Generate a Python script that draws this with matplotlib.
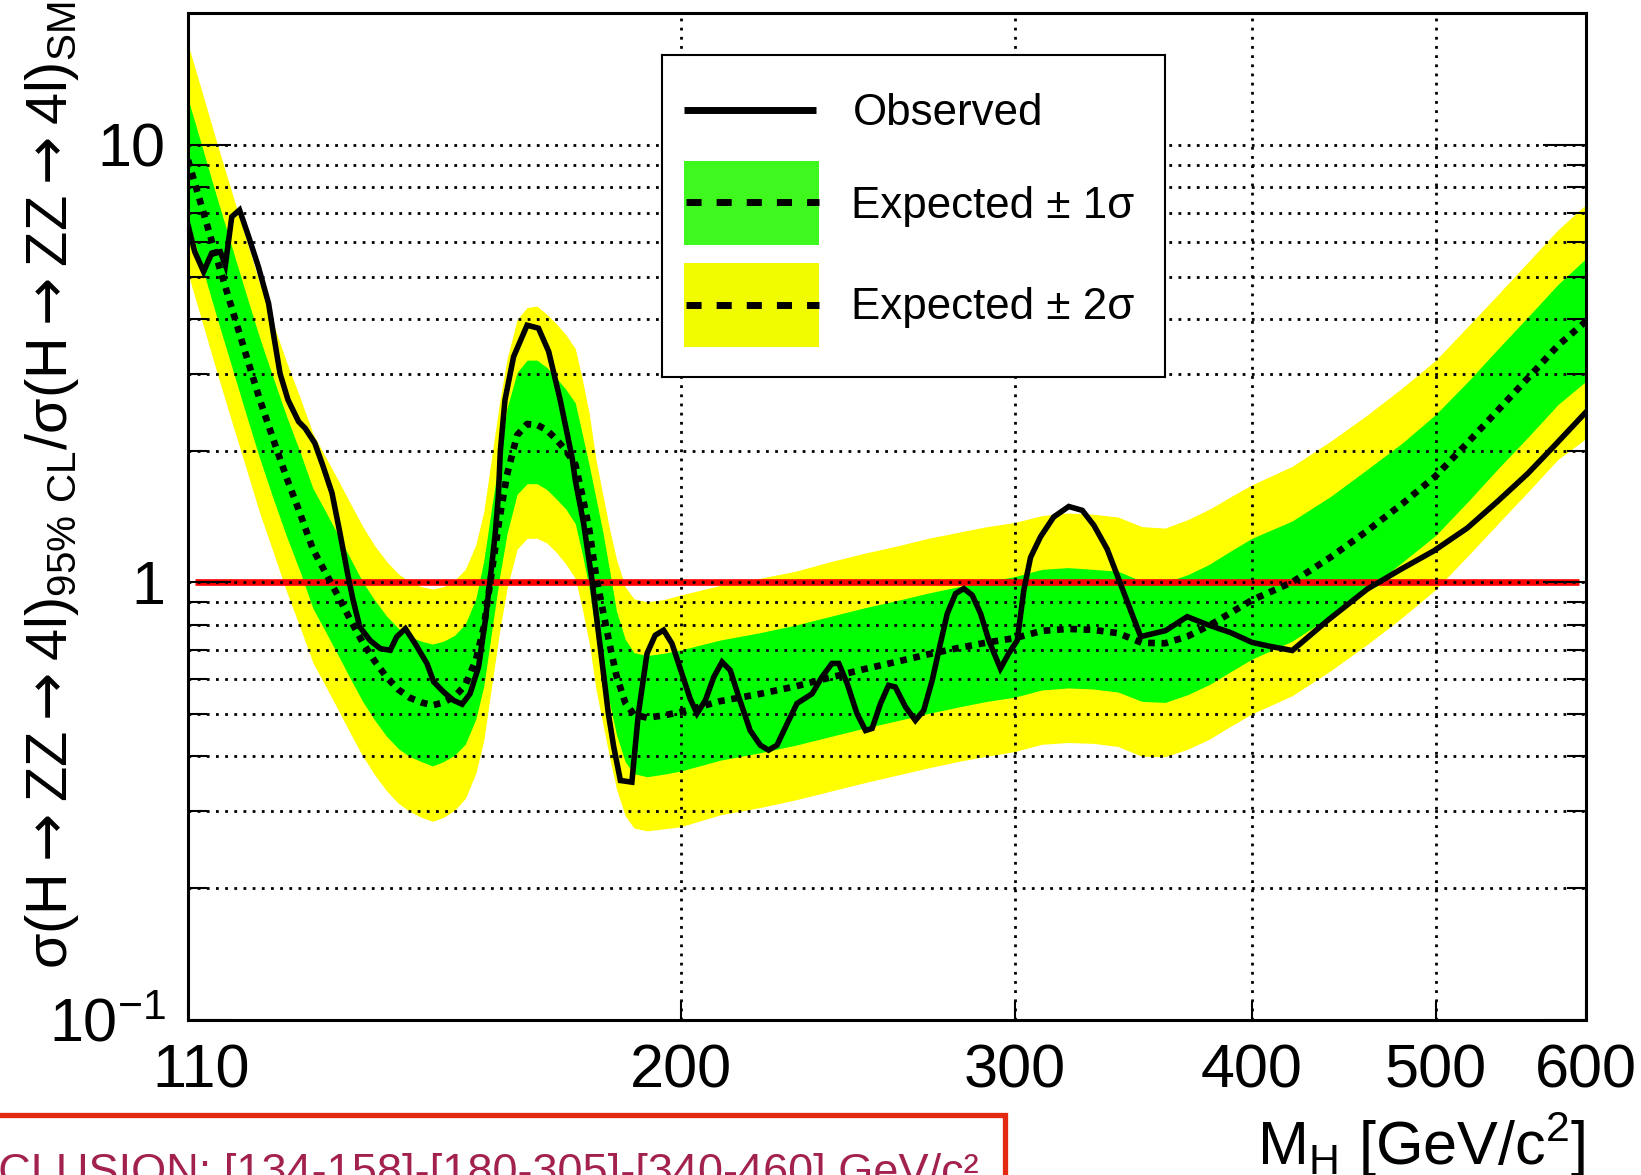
import matplotlib
matplotlib.use('Agg')
import matplotlib.pyplot as plt
from matplotlib.ticker import FixedLocator, NullLocator
from matplotlib.patches import Rectangle
from matplotlib.transforms import ScaledTranslation

# fonts: Helvetica-like, ROOT style
plt.rcParams['font.family'] = ['Liberation Sans', 'DejaVu Sans']
plt.rcParams['mathtext.fontset'] = 'dejavusans'
SANS = ['Liberation Sans', 'DejaVu Sans']

# ---- data (Higgs mass in GeV/c^2, limit / SM) ----
m_obs = [110.0, 110.9, 112.1, 113.2, 114.4, 115.1, 116.0, 117.1, 118.4, 119.8,
         121.3, 122.0, 123.0, 124.2, 125.8, 126.8, 128.3, 129.6, 131.0, 132.3,
         133.6, 134.4, 135.5, 137.2, 138.9, 140.6, 141.7, 143.2, 144.9, 147.0,
         148.2, 150.0, 151.8, 153.4, 154.9, 156.5, 157.8, 158.7, 159.7, 160.3,
         160.7, 161.6, 163.3, 166.0, 168.3, 170.4, 172.8, 175.3, 176.0, 177.8,
         179.6, 181.4, 183.2, 184.4, 185.9, 188.5, 190.0, 192.0, 193.9, 195.9,
         197.9, 200.3, 202.3, 204.0, 206.1, 208.2, 210.3, 212.4, 214.6, 217.6,
         220.3, 222.5, 224.8, 227.6, 230.3, 234.6, 237.4, 240.3, 242.3, 244.8,
         247.7, 250.3, 252.3, 254.9, 257.4, 259.5, 262.7, 265.9, 268.6, 271.4,
         274.1, 276.4, 279.2, 282.0, 284.9, 287.8, 290.7, 294.8, 297.8, 300.9,
         303.3, 305.8, 309.5, 314.5, 320.3, 325.6, 330.2, 335.6, 341.1, 349.5,
         360.2, 369.8, 378.9, 389.8, 400.2, 409.2, 420.1, 438.4, 460.2, 479.2,
         498.9, 519.5, 538.9, 558.9, 577.3, 600.0]
observed = [6.56, 5.70, 5.13, 5.65, 5.70, 5.31, 6.85, 7.10, 6.17, 5.27,
            4.34, 3.71, 3.00, 2.61, 2.33, 2.25, 2.08, 1.84, 1.60, 1.29,
            1.03, 0.91, 0.79, 0.736, 0.705, 0.699, 0.750, 0.783, 0.724, 0.652,
            0.592, 0.561, 0.537, 0.526, 0.556, 0.640, 0.819, 1.01, 1.29, 1.57,
            2.00, 2.61, 3.28, 3.87, 3.81, 3.37, 2.61, 1.93, 1.71, 1.36,
            1.01, 0.711, 0.501, 0.420, 0.352, 0.349, 0.501, 0.687, 0.756, 0.777,
            0.724, 0.618, 0.542, 0.501, 0.537, 0.607, 0.657, 0.629, 0.547, 0.458,
            0.424, 0.413, 0.424, 0.475, 0.528, 0.556, 0.607, 0.652, 0.652, 0.586,
            0.501, 0.458, 0.463, 0.528, 0.581, 0.576, 0.519, 0.483, 0.509, 0.597,
            0.724, 0.848, 0.942, 0.967, 0.934, 0.848, 0.736, 0.635, 0.687, 0.736,
            0.959, 1.14, 1.27, 1.41, 1.49, 1.46, 1.35, 1.19, 0.99, 0.751,
            0.775, 0.834, 0.800, 0.767, 0.728, 0.713, 0.698, 0.817, 0.965, 1.07,
            1.18, 1.33, 1.53, 1.77, 2.05, 2.45]

m_exp = [110, 112, 114, 116, 118, 120, 122, 124, 126, 128,
         130, 132, 134, 136, 138, 140, 142, 144, 146, 148,
         150, 152, 154, 156, 157.5, 159, 160.5, 162, 164, 166,
         168, 170, 172, 174, 176, 177.5, 179, 180.5, 182, 183.5,
         185, 187, 189, 192, 196, 200, 210, 220, 230, 240,
         250, 260, 270, 280, 290, 300, 310, 320, 330, 340,
         350, 360, 370, 380, 390, 400, 420, 440, 460, 480,
         500, 520, 540, 560, 580, 600]
expected = [9.24, 7.08, 5.44, 4.24, 3.32, 2.62, 2.12, 1.73, 1.44, 1.19,
            1.05, 0.928, 0.818, 0.727, 0.659, 0.606, 0.568, 0.544, 0.531, 0.523,
            0.531, 0.548, 0.581, 0.665, 0.79, 1.05, 1.39, 1.76, 2.17, 2.30,
            2.29, 2.23, 2.12, 2.0, 1.86, 1.58, 1.32, 1.03, 0.86, 0.72,
            0.612, 0.53, 0.498, 0.490, 0.496, 0.505, 0.535, 0.555, 0.578, 0.606,
            0.633, 0.658, 0.684, 0.707, 0.728, 0.745, 0.774, 0.782, 0.778, 0.765,
            0.727, 0.725, 0.752, 0.797, 0.852, 0.91, 1.00, 1.14, 1.31, 1.51,
            1.75, 2.09, 2.49, 2.95, 3.48, 3.95]
one_sig_hi = [12.75, 9.77, 7.51, 5.85, 4.58, 3.62, 2.93, 2.39, 1.99, 1.64,
              1.45, 1.28, 1.13, 1.00, 0.909, 0.836, 0.784, 0.751, 0.733, 0.722,
              0.733, 0.756, 0.802, 0.918, 1.12, 1.48, 1.92, 2.50, 3.02, 3.22,
              3.22, 3.10, 2.93, 2.76, 2.57, 2.18, 1.85, 1.55, 1.30, 1.06,
              0.860, 0.740, 0.690, 0.680, 0.688, 0.700, 0.738, 0.766, 0.798, 0.836,
              0.874, 0.908, 0.944, 0.976, 1.005, 1.03, 1.07, 1.08, 1.07, 1.06,
              1.005, 1.00, 1.04, 1.10, 1.18, 1.26, 1.38, 1.57, 1.81, 2.08,
              2.42, 2.88, 3.44, 4.07, 4.80, 5.50]
one_sig_lo = [6.77, 5.19, 3.99, 3.11, 2.43, 1.92, 1.55, 1.27, 1.06, 0.872,
              0.770, 0.680, 0.600, 0.533, 0.483, 0.444, 0.416, 0.399, 0.389, 0.380,
              0.389, 0.402, 0.426, 0.487, 0.579, 0.770, 1.02, 1.29, 1.59, 1.68,
              1.68, 1.63, 1.55, 1.47, 1.36, 1.16, 0.968, 0.755, 0.630, 0.528,
              0.449, 0.388, 0.365, 0.359, 0.364, 0.370, 0.392, 0.407, 0.424, 0.444,
              0.464, 0.482, 0.501, 0.518, 0.534, 0.546, 0.567, 0.573, 0.570, 0.561,
              0.534, 0.531, 0.553, 0.584, 0.625, 0.667, 0.733, 0.836, 0.960, 1.11,
              1.28, 1.53, 1.83, 2.16, 2.55, 2.88]
two_sig_hi = [17.0, 13.03, 10.01, 7.80, 6.11, 4.82, 3.90, 3.18, 2.65, 2.19,
              1.93, 1.71, 1.51, 1.34, 1.21, 1.115, 1.045, 1.00, 0.977, 0.965,
              0.977, 1.01, 1.07, 1.22, 1.45, 1.93, 2.56, 3.24, 3.99, 4.25,
              4.28, 4.10, 3.90, 3.68, 3.42, 2.91, 2.43, 1.90, 1.58, 1.32,
              1.13, 0.975, 0.916, 0.902, 0.913, 0.935, 0.984, 1.02, 1.06, 1.115,
              1.165, 1.21, 1.26, 1.30, 1.34, 1.37, 1.42, 1.44, 1.43, 1.41,
              1.34, 1.33, 1.39, 1.47, 1.57, 1.67, 1.84, 2.10, 2.41, 2.78,
              3.22, 3.85, 4.58, 5.43, 6.40, 7.31]
two_sig_lo = [5.08, 3.89, 2.99, 2.33, 1.83, 1.44, 1.17, 0.95, 0.79, 0.655,
              0.578, 0.510, 0.450, 0.400, 0.362, 0.333, 0.312, 0.299, 0.290, 0.284,
              0.290, 0.301, 0.320, 0.366, 0.435, 0.578, 0.765, 0.968, 1.19, 1.26,
              1.26, 1.23, 1.17, 1.10, 1.02, 0.869, 0.726, 0.567, 0.473, 0.396,
              0.337, 0.292, 0.274, 0.270, 0.273, 0.276, 0.294, 0.305, 0.318, 0.333,
              0.348, 0.362, 0.376, 0.389, 0.400, 0.410, 0.426, 0.430, 0.428, 0.421,
              0.400, 0.399, 0.415, 0.438, 0.469, 0.50, 0.55, 0.627, 0.72, 0.83,
              0.963, 1.15, 1.37, 1.62, 1.91, 2.13]

# SM reference line (limit / SM = 1)
ref_mass = [111, 595]
ref_ratio = [1, 1]

x_ticks = [110, 200, 300, 400, 500, 600]
x_tick_labels = ['110', '200', '300', '400', '500', '600']
y_major = [0.1, 1, 10]
y_major_labels = [r'$\mathregular{10^{-1}}$', '1', '10']
y_minor = [0.2, 0.3, 0.4, 0.5, 0.6, 0.7, 0.8, 0.9, 2, 3, 4, 5, 6, 7, 8, 9]

W, H = 1641, 1175
fig = plt.figure(figsize=(W / 100, H / 100), dpi=100)
ax = fig.add_axes([188 / W, 1 - 1019.5 / H, 1398 / W, 1006.2 / H])
ax.set_xscale('log')
ax.set_yscale('log')

ax.fill_between(m_exp, two_sig_lo, two_sig_hi, color='#ffff00', lw=0, zorder=1)
ax.fill_between(m_exp, one_sig_lo, one_sig_hi, color='#00ff00', lw=0, zorder=1.1)
ax.plot(ref_mass, ref_ratio, color='#ff0000', lw=4.8, zorder=2, solid_capstyle='butt')
ax.plot(m_exp, expected, color='black', lw=4.8, linestyle=(0, (1.0, 1.0)),
        dash_capstyle='butt', zorder=3)
ax.plot(m_obs, observed, color='black', lw=4.0, zorder=4, solid_joinstyle='miter')

ax.set_xlim(110, 600)
ax.set_ylim(0.1, 20)

ax.xaxis.set_major_locator(FixedLocator(x_ticks))
ax.xaxis.set_minor_locator(NullLocator())
ax.set_xticks(x_ticks, x_tick_labels, fontsize=44)
ax.yaxis.set_major_locator(FixedLocator(y_major))
ax.yaxis.set_minor_locator(FixedLocator(y_minor))
ax.set_yticks(y_major, y_major_labels, fontsize=44)
ax.yaxis.set_minor_formatter(plt.NullFormatter())

ax.tick_params(axis='x', which='major', direction='in', length=14, width=1.5,
               bottom=True, top=False, pad=17)
ax.tick_params(axis='y', which='major', direction='in', length=31, width=1.5,
               left=True, right=True, pad=16)
ax.tick_params(axis='y', which='minor', direction='in', length=14, width=1.5,
               left=True, right=True)

# the first x label sits a bit right of its tick, as in ROOT
first = ax.xaxis.get_major_ticks()[0].label1
first.set_transform(first.get_transform() + ScaledTranslation(0.13, 0, fig.dpi_scale_trans))

ax.set_axisbelow(False)
dots = (0, (1, 2.3))
ax.grid(True, which='major', axis='x', color='black', linestyle=dots, lw=2.0)
ax.grid(True, which='both', axis='y', color='black', linestyle=dots, lw=2.0)
for s in ax.spines.values():
    s.set_linewidth(2.2)

# axis titles
fig.text(1586 / W, -5 / H, r'M$_{\mathregular{H}}$ [GeV/c$^{\mathregular{2}}$]',
         ha='right', va='bottom', fontsize=44, family=SANS)
fig.text(52 / W, 0.999,
         r'σ(H$\rightarrow$ZZ$\rightarrow$4l)$_{\mathregular{95\%\ CL}}$'
         r'/σ(H$\rightarrow$ZZ$\rightarrow$4l)$_{\mathregular{SM}}$',
         rotation=90, ha='center', va='top', fontsize=41.5, family=SANS)

# legend box, drawn in its own small axes (pixel units inside the box)
lax = fig.add_axes([662 / W, 1 - 376.7 / H, 503 / W, 321.7 / H], zorder=5)
lax.set_xlim(0, 503)
lax.set_ylim(321.7, 0)
lax.set_xticks([])
lax.set_yticks([])
for s in lax.spines.values():
    s.set_linewidth(1.5)
lax.plot([22, 154], [55, 55], color='black', lw=5, solid_capstyle='butt')
lax.add_patch(Rectangle((22, 106), 135, 84, facecolor='#3ef81e', lw=0))
lax.plot([24, 157], [147, 147], color='black', lw=5, linestyle=(0, (2.17, 2.17)),
         dash_capstyle='butt')
lax.add_patch(Rectangle((22, 208), 135, 84, facecolor='#f2fc00', lw=0))
lax.plot([24, 157], [250, 250], color='black', lw=5, linestyle=(0, (2.17, 2.17)),
         dash_capstyle='butt')
leg_font = 31.6
lax.text(191, 70, 'Observed', fontsize=leg_font, va='baseline')
lax.text(189, 163, 'Expected ± 1σ', fontsize=leg_font, va='baseline')
lax.text(189, 264, 'Expected ± 2σ', fontsize=leg_font, va='baseline')

# cut-off annotation box at the bottom left
fig.add_artist(Rectangle((-20 / W, -25 / H), 1025 / W, 85 / H, transform=fig.transFigure,
                         fill=False, edgecolor='#e3290f', lw=3.8, clip_on=False))
fig.text(979 / W, (H - 1185) / H, 'EXCLUSION: [134-158]-[180-305]-[340-460] GeV/c²',
         ha='right', va='baseline', color='#a3214f', fontsize=32.5, family=SANS)

fig.savefig('out.png', dpi=100)
